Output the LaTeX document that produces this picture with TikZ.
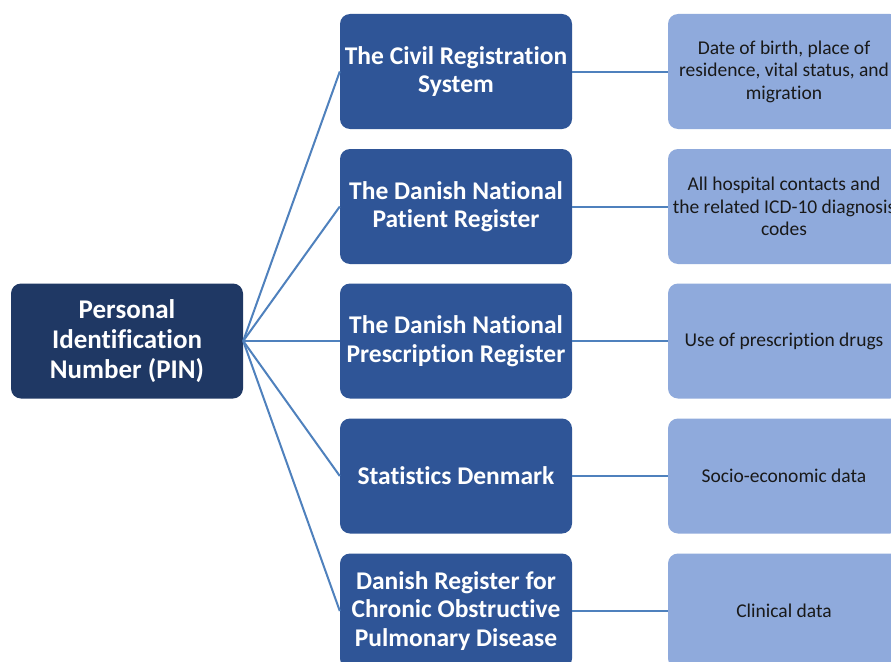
\documentclass[tikz,border=0pt]{standalone}
\usepackage{fontspec}
\setmainfont{Carlito}[Ligatures=NoCommon]
\definecolor{pinblue}{HTML}{1F3864}
\definecolor{regblue}{HTML}{2F5597}
\definecolor{datablue}{HTML}{8FAADC}
\definecolor{linkblue}{HTML}{4F81BD}
\tikzset{
  box/.style={rounded corners=10pt, minimum width=232pt, minimum height=115pt,
    inner sep=2pt, align=center},
  pinbox/.style={box, fill=pinblue, text=white,
    font=\fontsize{27}{30}\selectfont\bfseries},
  regbox/.style={box, fill=regblue, text=white,
    font=\fontsize{25.5}{28.5}\selectfont\bfseries},
  databox/.style={box, fill=datablue, text=black!90,
    font=\fontsize{19.5}{22.5}\selectfont},
  link/.style={draw=linkblue, line width=2pt}
}
\begin{document}
\begin{tikzpicture}[x=1pt,y=-1pt]
\useasboundingbox (0,0) rectangle (891,661);
\clip (0,0) rectangle (891,661);
\fill[white] (0,0) rectangle (891,661);

% central identifier
\node[pinbox] (pin) at (127,341) {Personal\\Identification\\Number (PIN)};

% registers
\node[regbox] (r1) at (456,71.5) {The Civil Registration\\System};
\node[regbox] (r2) at (456,206.5) {The Danish National\\Patient Register};
\node[regbox] (r3) at (456,341) {The Danish National\\Prescription Register};
\node[regbox] (r4) at (456,476) {Statistics Denmark};
\node[regbox] (r5) at (456,611) {Danish Register for\\Chronic Obstructive\\Pulmonary Disease};

% data held in each register
\node[databox] (d1) at (784,71.5) {Date of birth, place of\\residence, vital status, and\\migration};
\node[databox] (d2) at (784,206.5) {All hospital contacts and\\the related ICD-10 diagnosis\\codes};
\node[databox] (d3) at (784,341) {Use of prescription drugs};
\node[databox] (d4) at (784,476) {Socio-economic data};
\node[databox] (d5) at (784,611) {Clinical data};

% connectors
\foreach \i in {1,...,5} {
  \draw[link] (pin.east) -- (r\i.west);
  \draw[link] (r\i.east) -- (d\i.west);
}
\end{tikzpicture}
\end{document}
